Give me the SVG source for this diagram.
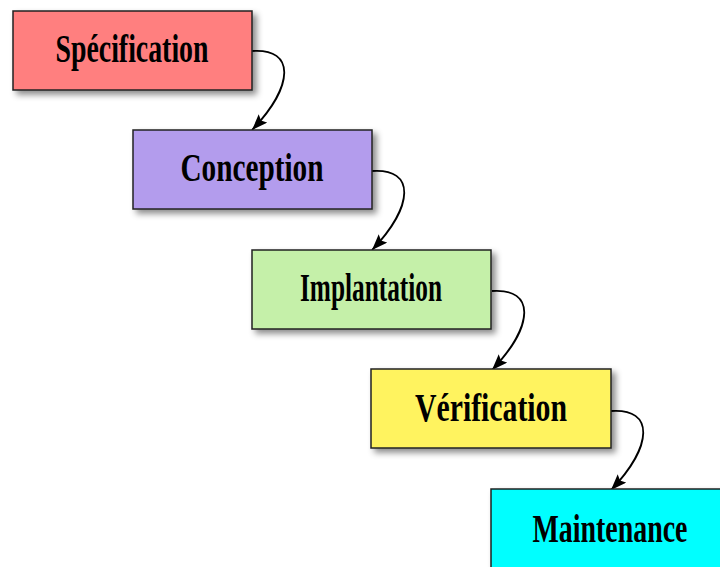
<svg xmlns="http://www.w3.org/2000/svg" width="720" height="567" viewBox="0 0 720 567">
<defs>
<filter id="sh" x="-10%" y="-20%" width="130%" height="150%">
<feDropShadow dx="4" dy="4" stdDeviation="3" flood-color="#000" flood-opacity="0.45"/>
</filter>
<marker id="ah" viewBox="0 0 16 12" refX="16" refY="6" markerWidth="16" markerHeight="12" markerUnits="userSpaceOnUse" orient="auto">
<path d="M0,0 L16,6 L0,12 L3,6 z" fill="#000"/>
</marker>
<style>
.box{stroke:#222;stroke-width:1.5;filter:url(#sh)}
.lbl{font-family:"Liberation Serif","Times New Roman",serif;font-weight:bold;font-size:40px;fill:#000;text-anchor:middle}
.edge{fill:none;stroke:#000;stroke-width:1.8;marker-end:url(#ah)}
</style>
</defs>
<rect width="720" height="567" fill="#fff"/>
<g id="connectors">
<path class="edge" d="M252,51 C296,48 294,86 252,130"/>
<path class="edge" d="M372,171 C416,168 414,206 372,250"/>
<path class="edge" d="M492,291 C536,288 534,326 492,370"/>
<path class="edge" d="M611,411 C655,408 653,446 611,490"/>
</g>
<g id="specification">
<rect class="box" x="13" y="11" width="239" height="79" fill="#ff7f7f"/>
<text class="lbl" x="132" y="62" textLength="153" lengthAdjust="spacingAndGlyphs">Spécification</text>
</g>
<g id="conception">
<rect class="box" x="133" y="130" width="239" height="79" fill="#b39ced"/>
<text class="lbl" x="252" y="181" textLength="143" lengthAdjust="spacingAndGlyphs">Conception</text>
</g>
<g id="implantation">
<rect class="box" x="252" y="250" width="239" height="79" fill="#c5f0a9"/>
<text class="lbl" x="371" y="301" textLength="142" lengthAdjust="spacingAndGlyphs">Implantation</text>
</g>
<g id="verification">
<rect class="box" x="371" y="369" width="240" height="79" fill="#fff35e"/>
<text class="lbl" x="491" y="421" textLength="152" lengthAdjust="spacingAndGlyphs">Vérification</text>
</g>
<g id="maintenance">
<rect class="box" x="491" y="489" width="240" height="82" fill="#00ffff"/>
<text class="lbl" x="610" y="542" textLength="155" lengthAdjust="spacingAndGlyphs">Maintenance</text>
</g>
</svg>
